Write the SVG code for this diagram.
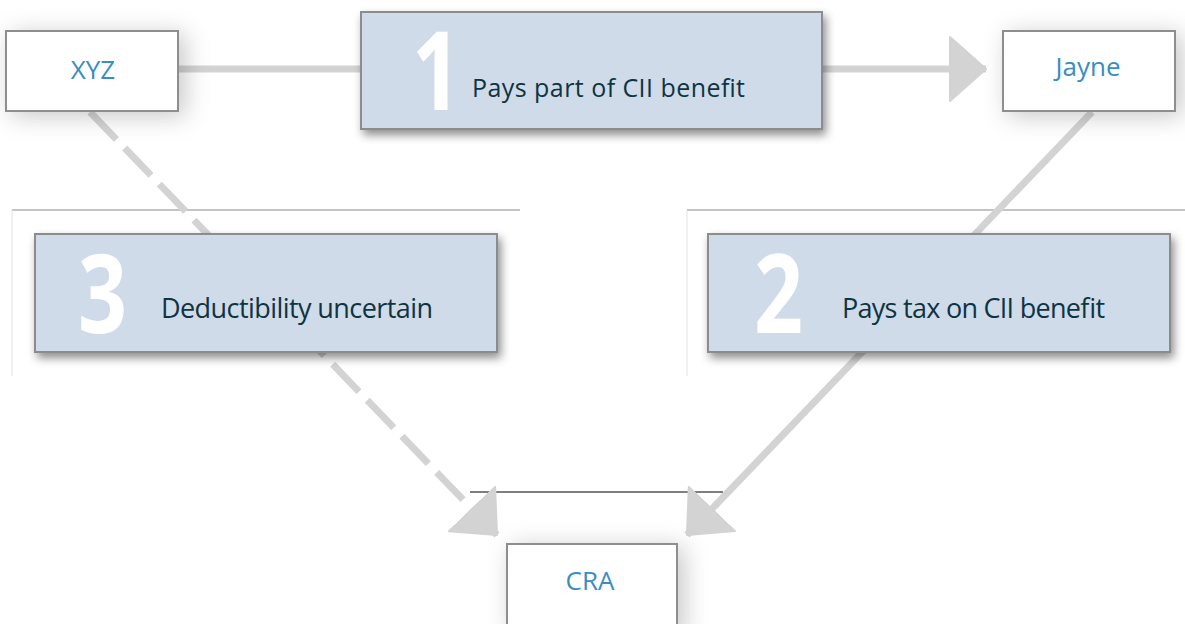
<svg xmlns="http://www.w3.org/2000/svg" width="1185" height="624" viewBox="0 0 1185 624">
  <style>
    .entity { fill: #ffffff; stroke: #8e8e8e; stroke-width: 2; filter: url(#glow); }
    .step { fill: #d0dbe9; stroke: #8c8c8c; stroke-width: 2; filter: url(#shadow); }
    .label { font-family: "Open Sans", "Noto Sans", sans-serif; font-size: 26px; fill: #3a8dc1; text-anchor: middle; }
    .num { font-family: "Open Sans", "Noto Sans", sans-serif; font-weight: 700; font-size: 110px; fill: #ffffff; }
    .caption { font-family: "Open Sans", "Noto Sans", sans-serif; fill: #0e3442; }
    .flow { fill: none; stroke: #d3d3d3; stroke-width: 7; }
    .dashed { stroke-dasharray: 38 12; }
    .rule { stroke: #8a8a8a; stroke-width: 1.2; fill: none; }
    .faint { stroke: #e2e2e2; stroke-width: 1; fill: none; }
  </style>
  <defs>
    <filter id="shadow" x="-10%" y="-20%" width="125%" height="150%">
      <feDropShadow dx="3" dy="5" stdDeviation="5" flood-color="#000" flood-opacity="0.45"/>
    </filter>
    <filter id="glow" x="-30%" y="-50%" width="170%" height="220%">
      <feDropShadow dx="6" dy="4" stdDeviation="12" flood-color="#000" flood-opacity="0.22"/>
    </filter>
    <marker id="head" markerUnits="userSpaceOnUse" markerWidth="38" markerHeight="66" viewBox="0 0 38 66" refX="37" refY="33" orient="auto">
      <path d="M1,1 L37,33 L1,65 Z" fill="#d3d3d3" stroke="#d3d3d3" stroke-width="2" stroke-linejoin="round"/>
    </marker>
  </defs>

  <rect width="1185" height="624" fill="#ffffff"/>

  <!-- panel rules behind the step boxes -->
  <g id="panels">
    <line class="rule" x1="12" y1="210" x2="520" y2="210"/>
    <line class="faint" x1="12" y1="210" x2="12" y2="376"/>
    <line class="rule" x1="687" y1="210" x2="1185" y2="210"/>
    <line class="faint" x1="687" y1="210" x2="687" y2="376"/>
    <line x1="470" y1="492" x2="723" y2="492" stroke="#555555" stroke-width="1.5"/>
  </g>

  <!-- connectors -->
  <g id="connectors">
    <path class="flow" d="M178,69 L986,69" marker-end="url(#head)"/>
    <path class="flow dashed" d="M90,112 L497,535" marker-end="url(#head)"/>
    <path class="flow" d="M1092,112 L687,535" marker-end="url(#head)"/>
  </g>

  <g id="node-xyz">
    <rect class="entity" x="6" y="31" width="172" height="80"/>
    <text class="label" x="93" y="79">XYZ</text>
  </g>

  <g id="node-jayne">
    <rect class="entity" x="1003" y="31" width="172" height="80"/>
    <text class="label" x="1088" y="76">Jayne</text>
  </g>

  <g id="node-cra">
    <rect class="entity" x="507" y="544" width="170" height="90"/>
    <text class="label" x="590" y="590">CRA</text>
  </g>

  <g id="step-1">
    <rect class="step" x="361" y="12" width="461" height="117"/>
    <text class="num" transform="translate(412,110) scale(0.78,1)">1</text>
    <text class="caption" x="472" y="97" font-size="25" textLength="273">Pays part of CII benefit</text>
  </g>

  <g id="step-3">
    <rect class="step" x="35" y="234" width="462" height="118"/>
    <text class="num" transform="translate(78,333) scale(0.78,1)">3</text>
    <text class="caption" x="161" y="318" font-size="27" textLength="272">Deductibility uncertain</text>
  </g>

  <g id="step-2">
    <rect class="step" x="708" y="234" width="462" height="118"/>
    <text class="num" transform="translate(754,333) scale(0.78,1)">2</text>
    <text class="caption" x="842" y="318" font-size="27" textLength="263">Pays tax on CII benefit</text>
  </g>
</svg>
